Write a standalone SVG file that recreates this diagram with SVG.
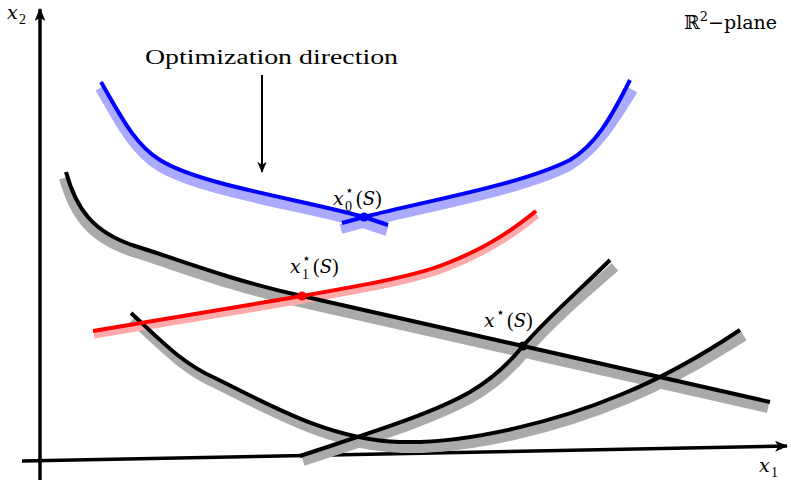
<svg xmlns="http://www.w3.org/2000/svg" width="791" height="481" viewBox="0 0 791 481">
<defs>
<marker id="ah" viewBox="0 0 12 10" refX="11" refY="5" markerWidth="13" markerHeight="11" markerUnits="userSpaceOnUse" orient="auto">
<path d="M0,0 L12,5 L0,10 L3,5 Z" fill="#000"/>
</marker>
<marker id="ah2" viewBox="0 0 12 10" refX="11" refY="5" markerWidth="11" markerHeight="10" markerUnits="userSpaceOnUse" orient="auto">
<path d="M0,0 L12,5 L0,10 L3,5 Z" fill="#000"/>
</marker>
<style>
.sh{fill:none;stroke:#aaaaaa;stroke-width:10;}
.shb{fill:none;stroke:#aaaaff;stroke-width:10;}
.shr{fill:none;stroke:#ffaaaa;stroke-width:7;}
.k{fill:none;stroke:#000;stroke-width:4;}
.b{fill:none;stroke:#0000ff;stroke-width:4;}
.r{fill:none;stroke:#ff0000;stroke-width:4;}
.ax{fill:none;stroke:#000;stroke-width:3.5;}
text{font-family:"DejaVu Serif","Liberation Serif",serif;fill:#000;}
.m{font-size:20px;font-family:"Liberation Serif","DejaVu Serif",serif;}
.mi{font-size:19px;font-style:italic;font-family:"DejaVu Serif",serif;}
.si{font-style:italic;font-family:"DejaVu Serif",serif;font-size:18px;}
.sm{font-size:14px;font-family:"Liberation Serif","DejaVu Serif",serif;}
.st{font-size:14px;font-family:"DejaVu Sans",sans-serif;}
</style>
</defs>
<g id="axes">
<line class="ax" x1="40" y1="480" x2="40" y2="9" marker-end="url(#ah)"/>
<line class="ax" x1="22" y1="461" x2="787" y2="446" marker-end="url(#ah)"/>
<text class="mi" x="7" y="19">x</text><text class="sm" x="19" y="24">2</text>
<text class="mi" x="759" y="472">x</text><text class="sm" x="771" y="477">1</text>
</g>
<g id="shadows">
<path class="shb" transform="translate(-1,6)" d="M101,82 C120,115 135,145 160,160 C200,185 300,199 364,217 L388,225 M342,223 L364,217 C430,200 520,185 570,160 C595,145 612,120 634,84"/>
<path class="sh" transform="translate(-2,6)" d="M66,172 C76,208 92,232 135,246 C180,260 230,280 302,296 L770,402"/>
<path class="sh" transform="translate(2,6)" d="M131,313 C165,345 185,365 215,378 C270,405 330,440 400,442 C470,444 560,420 620,395 C670,375 710,350 742,330"/>
<path class="sh" transform="translate(3,5)" d="M300,456 C360,436 430,415 470,392 C495,377 510,362 523,346 C550,315 580,290 612,262"/>
<path class="shr" transform="translate(1,4)" d="M93,331 L302,296 C370,284 420,275 450,262 C490,246 515,228 536,211"/>
</g>
<g id="connectors">
<line x1="262" y1="75" x2="262" y2="172" stroke="#000" stroke-width="2" marker-end="url(#ah2)"/>
</g>
<g id="curve-blue">
<path class="b" d="M101,82 C120,115 135,145 160,160 C200,185 300,199 364,217 L388,225 M342,223 L364,217 C430,200 520,185 570,160 C595,145 610,120 630,80"/>
</g>
<g id="curve-black-1">
<path class="k" d="M66,172 C76,208 92,232 135,246 C180,260 230,280 302,296 L770,402"/>
</g>
<g id="curve-black-2">
<path class="k" d="M131,313 C165,345 185,365 215,378 C270,405 330,440 400,442 C470,444 560,420 620,395 C670,375 710,350 740,330"/>
</g>
<g id="curve-black-3">
<path class="k" d="M300,456 C360,436 430,415 470,392 C495,377 510,362 523,346 C550,315 580,290 610,260"/>
</g>
<g id="curve-red">
<path class="r" d="M93,331 L302,296 C370,284 420,275 450,262 C490,246 515,228 536,211"/>
</g>
<g id="point-x0">
<circle cx="364" cy="217" r="4.5" fill="#0000ff"/>
<text class="mi" x="333" y="205">x</text><text class="st" x="345" y="195">⋆</text><text class="sm" x="345" y="211">0</text><text class="m" x="356" y="205">(<tspan class="si">S</tspan>)</text>
</g>
<g id="point-x1">
<circle cx="302" cy="296" r="4.5" fill="#ff0000"/>
<text class="mi" x="290" y="273">x</text><text class="st" x="302" y="263">⋆</text><text class="sm" x="302" y="279">1</text><text class="m" x="313" y="273">(<tspan class="si">S</tspan>)</text>
</g>
<g id="point-x">
<circle cx="523" cy="346" r="4.5" fill="#000"/>
<text class="mi" x="484" y="327">x</text><text class="st" x="496" y="317">⋆</text><text class="m" x="507" y="327">(<tspan class="si">S</tspan>)</text>
</g>
<g id="label-opt">
<text class="m" x="145" y="64" font-size="22" textLength="253" lengthAdjust="spacingAndGlyphs">Optimization direction</text>
</g>
<g id="label-plane">
<text x="684" y="29" font-size="19" font-family="DejaVu Serif, serif">ℝ<tspan font-size="13" dy="-8">2</tspan><tspan dy="8">−plane</tspan></text>
</g>
</svg>
